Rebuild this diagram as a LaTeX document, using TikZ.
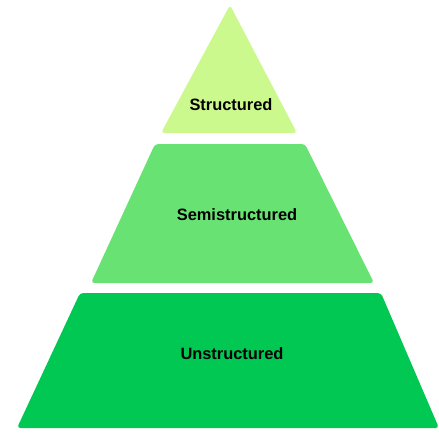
\documentclass[tikz,border=0pt]{standalone}
\usepackage{fontspec}
\setmainfont{Liberation Sans}
\usepackage{tikz}
\definecolor{toplevel}{HTML}{CCF98E}
\definecolor{midlevel}{HTML}{68E273}
\definecolor{lowlevel}{HTML}{00C853}
\begin{document}
\begin{tikzpicture}[x=0.75pt,y=-0.75pt,
 layer/.style={rounded corners=2.5pt},
 label/.style={font=\fontsize{12.3}{14}\selectfont\bfseries,text=black}]
\useasboundingbox (0,0) rectangle (439,432);
\fill[layer,toplevel] (230,5)--(297,133)--(161,133)--cycle;
\fill[layer,midlevel] (155,144)--(305,144)--(374,283)--(91,283)--cycle;
\fill[layer,lowlevel] (80,293)--(381,293)--(439,428)--(17,428)--cycle;
\node[label] (structured) at (231,105) {Structured};
\node[label] (semi) at (237,215) {Semistructured};
\node[label] (unstructured) at (232,354) {Unstructured};
\end{tikzpicture}
\end{document}
